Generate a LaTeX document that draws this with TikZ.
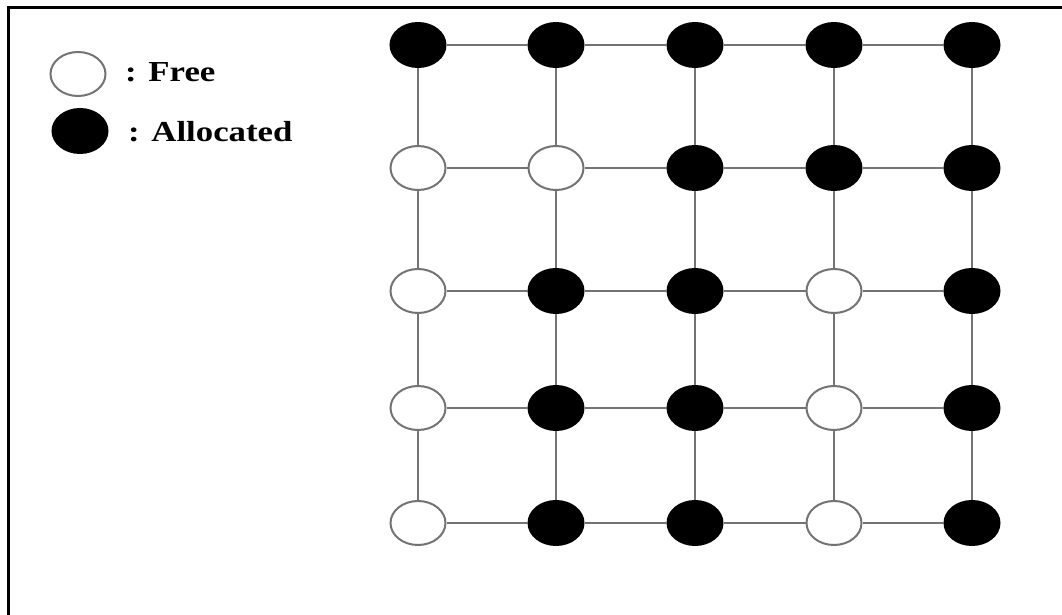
\documentclass[tikz,border=0pt]{standalone}
\usepackage{graphicx}
\usepackage{fontspec}
\setmainfont{Liberation Serif}
\usetikzlibrary{shapes.geometric}
\definecolor{linegray}{gray}{0.45}
\begin{document}
\begin{tikzpicture}[x=1pt,y=-1pt,
  cell/.style={ellipse, minimum width=55pt, minimum height=44pt, inner sep=0pt, line width=2pt},
  free/.style={cell, draw=linegray, fill=white},
  busy/.style={cell, draw=black, fill=black},
  link/.style={draw=linegray, line width=2.2pt},
  frameline/.style={draw=black, line width=3pt},
  legendtext/.style={anchor=base west, inner sep=0pt, font=\bfseries\fontsize{29}{30}\selectfont}]
\useasboundingbox (0,0) rectangle (1062,615);
% frame (top and left edges)
\coordinate (fbl) at (8.5,615);
\coordinate (ftl) at (8.5,7.5);
\coordinate (ftr) at (1062,7.5);
\draw[frameline] (fbl) -- (ftl) -- (ftr);

% legend
\node[free] (lfree) at (78,74) {};
\node[busy] (lbusy) at (80,131) {};
\node[legendtext] (tfree) at (125,82) {\scalebox{1.2}[1]{: Free}};
\node[legendtext] (tbusy) at (128,141) {\scalebox{1.2}[1]{: Allocated}};

% 5x5 mesh of processors
% row 1
\node[busy] (n11) at (418,45) {};
\node[busy] (n12) at (556,45) {};
\node[busy] (n13) at (695,45) {};
\node[busy] (n14) at (834,45) {};
\node[busy] (n15) at (972,45) {};
% row 2
\node[free] (n21) at (418,168) {};
\node[free] (n22) at (556,168) {};
\node[busy] (n23) at (695,168) {};
\node[busy] (n24) at (834,168) {};
\node[busy] (n25) at (972,168) {};
% row 3
\node[free] (n31) at (418,291) {};
\node[busy] (n32) at (556,291) {};
\node[busy] (n33) at (695,291) {};
\node[free] (n34) at (834,291) {};
\node[busy] (n35) at (972,291) {};
% row 4
\node[free] (n41) at (418,408) {};
\node[busy] (n42) at (556,408) {};
\node[busy] (n43) at (695,408) {};
\node[free] (n44) at (834,408) {};
\node[busy] (n45) at (972,408) {};
% row 5
\node[free] (n51) at (418,523) {};
\node[busy] (n52) at (556,523) {};
\node[busy] (n53) at (695,523) {};
\node[free] (n54) at (834,523) {};
\node[busy] (n55) at (972,523) {};

% horizontal links
\foreach \r in {1,...,5}{
  \foreach \c/\d in {1/2,2/3,3/4,4/5}{
    \draw[link] (n\r\c) -- (n\r\d);
  }
}
% vertical links
\foreach \c in {1,...,5}{
  \foreach \r/\s in {1/2,2/3,3/4,4/5}{
    \draw[link] (n\r\c) -- (n\s\c);
  }
}
\end{tikzpicture}
\end{document}
